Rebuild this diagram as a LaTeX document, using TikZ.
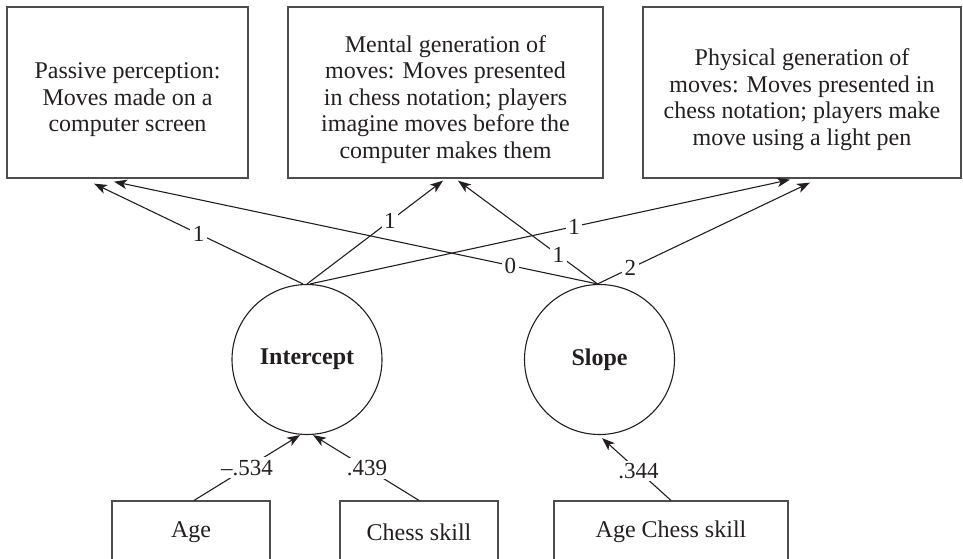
\documentclass[tikz,border=0pt]{standalone}
\usepackage{fontspec}
\setmainfont{Liberation Serif}
\usetikzlibrary{arrows.meta,calc}
\definecolor{ink}{HTML}{231F20}
\definecolor{frame}{HTML}{4D4D4D}
\newcommand{\topgap}{\rule{0pt}{31pt}}
\begin{document}
\begin{tikzpicture}[x=1pt,y=-1pt,
  box/.style={draw=frame,line width=1.3pt,rectangle,inner sep=0pt,align=center,text=ink,font=\fontsize{24}{26.5}\selectfont},
  latent/.style={draw=ink,line width=1.1pt,circle,minimum size=150pt,inner sep=0pt,font=\fontsize{24}{26}\selectfont\bfseries,text=ink},
  conn/.style={draw=ink,line width=1.1pt,-{Stealth[length=13pt,width=9.5pt,inset=3.5pt]}},
  lbl/.style={fill=white,inner sep=2.5pt,text=ink,font=\fontsize{23}{25}\selectfont}]
\useasboundingbox (0,0) rectangle (963,559);
% top boxes
\node[box,minimum width=241pt,minimum height=171pt] (b1) at (127.5,92.5) {\topgap Passive perception:\\Moves made on a\\computer screen};
\node[box,minimum width=315pt,minimum height=171pt] (b2) at (445.5,92.5) {\topgap Mental generation of\\moves: Moves presented\\in chess notation; players\\imagine moves before the\\computer makes them};
\node[box,minimum width=318pt,minimum height=171pt] (b3) at (802,92.5) {\topgap Physical generation of\\moves: Moves presented in\\chess notation; players make\\move using a light pen};
% latent variables
\node[latent] (icpt) at (307,359.5) {Intercept};
\node[latent] (slope) at (599.5,359.5) {Slope};
% bottom boxes
\node[box,line width=1.1pt,minimum width=158pt,minimum height=62pt] (age) at (191,532) {Age};
\node[box,line width=1.1pt,minimum width=158pt,minimum height=62pt] (chess) at (419,532) {Chess skill};
\node[box,line width=1.1pt,minimum width=234pt,minimum height=62pt] (agechess) at (671,532) {Age Chess skill};
% loadings
\draw[conn] ([xshift=-4pt]icpt.north) -- node[lbl,pos=0.5] {1} ([xshift=-33.5pt,yshift=-5pt]b1.south);
\draw[conn] (icpt.north) -- node[lbl,pos=0.61] {1} ([xshift=-2.5pt,yshift=-2pt]b2.south);
\draw[conn] ([xshift=3pt]icpt.north) -- node[lbl,pos=0.55] {1} ([xshift=-12pt,yshift=-1pt]b3.south);
\draw[conn] ([xshift=-2pt]slope.north) -- node[lbl,pos=0.18] {0} ([xshift=-13.5pt,yshift=-3pt]b1.south);
\draw[conn] ([xshift=-2pt]slope.north) -- node[lbl,pos=0.28] {1} ([xshift=12.5pt,yshift=-2pt]b2.south);
\draw[conn] ([xshift=-2pt]slope.north) -- node[lbl,pos=0.155] {2} ([xshift=8pt,yshift=-4pt]b3.south);
% predictors
\draw[conn] ([xshift=3pt]age.north) -- node[lbl,pos=0.5] {–.534} ([xshift=-7pt]icpt.south);
\draw[conn] (chess.north) -- node[lbl,pos=0.49] {.439} ([xshift=6pt]icpt.south);
\draw[conn] (agechess.north) -- node[lbl,pos=0.47] {.344} ([xshift=2.5pt,yshift=-3pt]slope.south);
\end{tikzpicture}
\end{document}
